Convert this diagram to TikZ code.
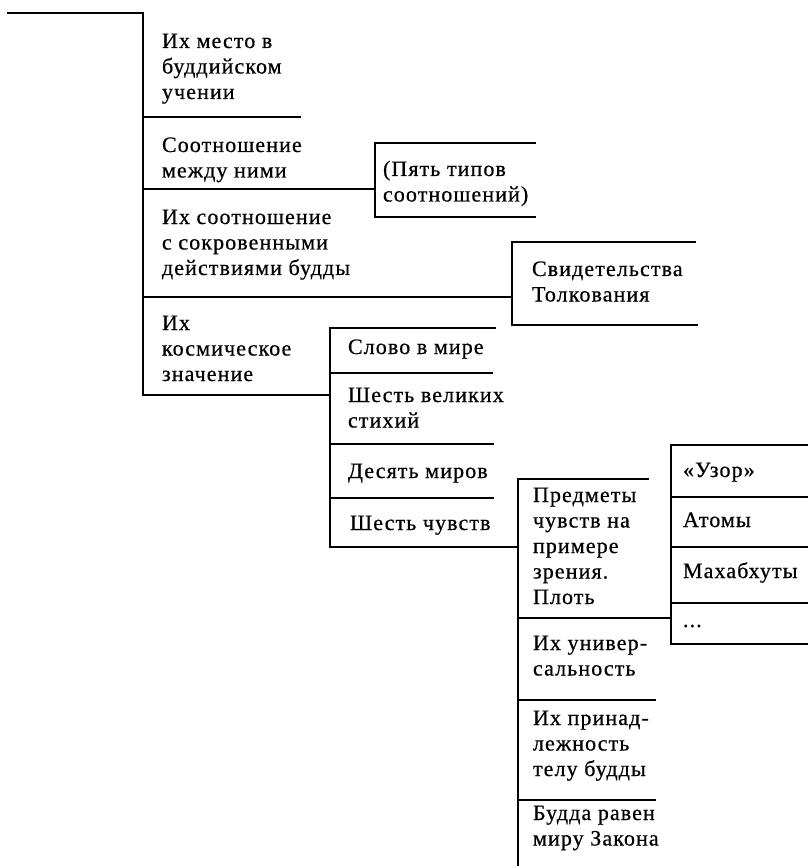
\documentclass[tikz,border=0pt]{standalone}
\usepackage{fontspec}
\setmainfont{Liberation Serif}[LetterSpace=5, FakeBold=0.6]
\begin{document}
\begin{tikzpicture}[x=1pt,y=-1pt,
  txt/.style={anchor=north west, inner sep=0pt, outer sep=0pt, align=left,
    font=\fontsize{22}{25.5}\selectfont, yshift=17.85pt},
  ln/.style={line width=1.6pt, line cap=rect, line join=miter}]
\useasboundingbox (0,0) rectangle (807,866);

% text blocks
\node[txt] (n1) at (162,48) {\strut Их место в\\буддийском\\учении};
\node[txt] (n2) at (162,152) {\strut Соотношение\\между ними};
\node[txt] (n3) at (162,224) {\strut Их соотношение\\с сокровенными\\действиями будды};
\node[txt] (n4) at (383,176) {\strut (Пять типов\\соотношений)};
\node[txt] (n5) at (532,276) {\strut Свидетельства\\Толкования};
\node[txt] (n6) at (162,330) {\strut Их\\космическое\\значение};
\node[txt] (n7) at (348,354) {\strut Слово в мире};
\node[txt] (n8) at (348,402) {\strut Шесть великих\\стихий};
\node[txt] (n9) at (348,478) {\strut Десять миров};
\node[txt] (n10) at (350,530) {\strut Шесть чувств};
\node[txt] (n11) at (533,502) {\strut Предметы\\чувств на\\примере\\зрения.\\Плоть};
\node[txt] (n12) at (533,650) {\strut Их универ-\\сальность};
\node[txt] (n13) at (533,725) {\strut Их принад-\\лежность\\телу будды};
\node[txt] (n14) at (533,820) {\strut Будда равен\\миру Закона};
\node[txt] (n15) at (683,477) {\strut «Узор»};
\node[txt] (n16) at (683,527) {\strut Атомы};
\node[txt] (n17) at (683,578) {\strut Махабхуты};
\node[txt] (n18) at (683,627) {\strut ...};

% main bracket
\draw[ln] (8,13) -- (143,13) -- (143,395) -- (330,395);
\draw[ln] (143,117) -- (300,117);
\draw[ln] (143,189) -- (375,189);
\draw[ln] (143,297) -- (512,297);

% (Пять типов) box
\draw[ln] (535,143) -- (375,143) -- (375,217) -- (535,217);
% Свидетельства box
\draw[ln] (695,242) -- (512,242) -- (512,325) -- (697,325);

% cosmic group
\draw[ln] (495,328) -- (330,328) -- (330,547) -- (518,547);
\draw[ln] (330,373) -- (492,373);
\draw[ln] (330,444) -- (493,444);
\draw[ln] (330,498) -- (493,498);

% senses group
\draw[ln] (648,479) -- (518,479) -- (518,866);
\draw[ln] (518,618) -- (671,618);
\draw[ln] (518,700) -- (655,700);
\draw[ln] (518,800) -- (655,800);

% pattern group
\draw[ln] (807,445) -- (671,445) -- (671,644) -- (807,644);
\draw[ln] (671,497) -- (807,497);
\draw[ln] (671,547) -- (807,547);
\draw[ln] (671,603) -- (807,603);
\end{tikzpicture}
\end{document}
